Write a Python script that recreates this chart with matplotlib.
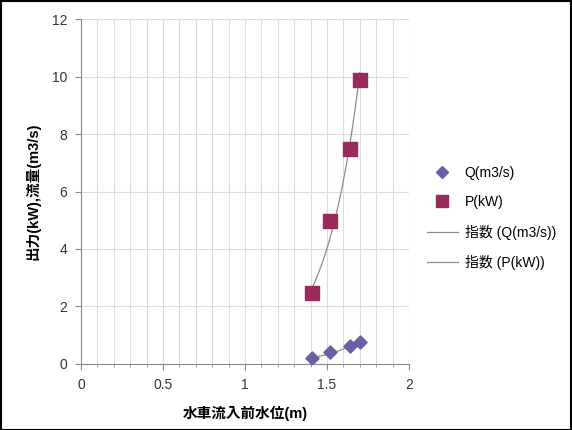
import numpy as np
import matplotlib
matplotlib.use("Agg")
import matplotlib.pyplot as plt
from matplotlib.lines import Line2D
from matplotlib.ticker import MultipleLocator, FormatStrFormatter

plt.rcParams["font.family"] = ["Liberation Sans", "Noto Sans CJK JP", "DejaVu Sans"]

# data
level = [1.41, 1.52, 1.64, 1.70]          # 水車流入前水位 (m)
flow  = [0.20, 0.43, 0.63, 0.77]          # Q (m3/s)
power = [2.48, 4.96, 7.48, 9.88]          # P (kW)

Q_COL = "#6a5ea8"
P_COL = "#9b2a5c"
TREND = "#8c8c8c"


def exp_trend(x, y):
    # same as an Excel exponential trendline: fit ln(y) = ln(a) + b*x
    b, ln_a = np.polyfit(x, np.log(y), 1)
    xs = np.linspace(min(x), max(x), 100)
    return xs, np.exp(ln_a) * np.exp(b * xs)


fig = plt.figure(figsize=(5.72, 4.30), dpi=100)
ax = fig.add_axes([0.1416, 0.1535, 0.5734, 0.8023])

ax.set_xlim(0, 2)
ax.set_ylim(0, 12)
ax.xaxis.set_major_locator(MultipleLocator(0.5))
ax.xaxis.set_minor_locator(MultipleLocator(0.1))
ax.xaxis.set_major_formatter(FormatStrFormatter("%g"))
ax.yaxis.set_major_locator(MultipleLocator(2))
ax.grid(which="both", axis="x", color="#dcdcdc", linewidth=0.8)
ax.grid(which="major", axis="y", color="#dcdcdc", linewidth=0.8)
ax.set_axisbelow(True)

for side in ("top", "right"):
    ax.spines[side].set_visible(False)
for side in ("left", "bottom"):
    ax.spines[side].set_color("#8a8a8a")
    ax.spines[side].set_linewidth(0.8)

ax.tick_params(which="major", direction="out", length=4, color="#8a8a8a",
               labelsize=10, labelcolor="#333333", pad=6)
ax.tick_params(which="minor", direction="out", length=2, color="#8a8a8a")

xs, ys = exp_trend(level, flow)
ax.plot(xs, ys, color=TREND, linewidth=0.9, zorder=2)
xs, ys = exp_trend(level, power)
ax.plot(xs, ys, color=TREND, linewidth=0.9, zorder=2)

ax.scatter(level, flow, marker="D", s=45, color=Q_COL, zorder=3)
ax.scatter(level, power, marker="s", s=95, color=P_COL, zorder=3)

ax.set_xlabel("水車流入前水位(m)", fontsize=10.5, fontweight="bold", labelpad=10)
ax.set_ylabel("出力(kW),流量(m3/s)", fontsize=10.5, fontweight="bold", labelpad=8)

handles = [
    Line2D([], [], marker="D", linestyle="none", color=Q_COL, markersize=6),
    Line2D([], [], marker="s", linestyle="none", color=P_COL, markersize=8),
    Line2D([], [], color=TREND, linewidth=0.9),
    Line2D([], [], color=TREND, linewidth=0.9),
]
labels = ["Q(m3/s)", "P(kW)", "指数 (Q(m3/s))", "指数 (P(kW))"]
fig.legend(handles, labels, loc="center left", bbox_to_anchor=(0.725, 0.493),
           frameon=False, fontsize=10, labelspacing=1.1, handlelength=2.2,
           handletextpad=0.5)

# black frame round the whole picture
fig.patches.append(plt.Rectangle((0.001, 0.001), 0.998, 0.997, transform=fig.transFigure,
                                 fill=False, edgecolor="black", linewidth=1.5))

fig.savefig("out.png", dpi=100, facecolor="white")
